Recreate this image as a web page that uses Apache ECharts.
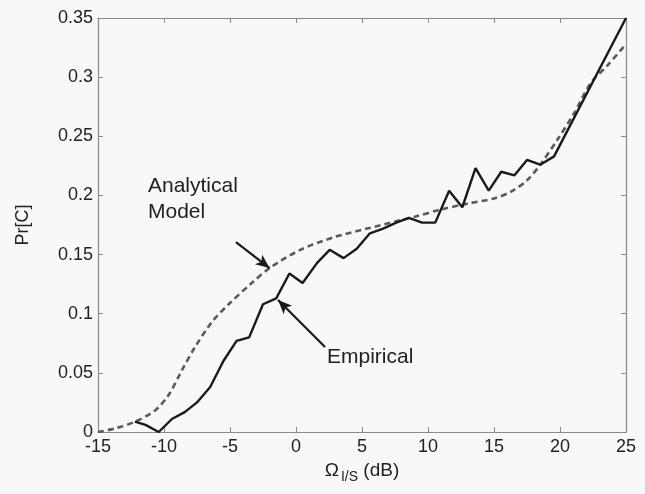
<!DOCTYPE html>
<html>
<head>
<meta charset="utf-8">
<script src="https://cdn.jsdelivr.net/npm/echarts@6/dist/echarts.min.js"></script>
<style>
html,body{margin:0;padding:0;background:#f8f8f8;}
#c{width:645px;height:494px;}
</style>
</head>
<body>
<div id="c"></div>
<script>
// Empirical (solid) curve: x in dB, y = Pr[C]
var empX = [-12.2,-11.4,-10.4,-9.4,-8.4,-7.5,-6.5,-5.5,-4.5,-3.55,-2.5,-1.5,-0.5,0.5,1.6,2.55,3.6,4.6,5.6,6.6,7.6,8.55,9.55,10.55,11.6,12.6,13.6,14.6,15.55,16.55,17.5,18.5,19.55,25];
var empY = [0.0087,0.006,0.0,0.011,0.017,0.025,0.038,0.060,0.077,0.080,0.108,0.113,0.134,0.126,0.143,0.154,0.147,0.155,0.168,0.172,0.177,0.181,0.177,0.177,0.204,0.190,0.223,0.204,0.220,0.217,0.230,0.226,0.233,0.350];
// Analytical model (dashed) curve
var anaX = [-15,-13.7,-12.2,-10.7,-9.67,-8.65,-7.64,-6.37,-5.1,-3.35,-1.95,0.33,2.85,5.39,7.9,9,10.95,12.97,15,16.26,17.53,18.5,19.8,21.07,22.33,23.6,24.93];
var anaY = [0,0.003,0.0087,0.018,0.031,0.052,0.072,0.093,0.108,0.126,0.139,0.154,0.1646,0.172,0.179,0.182,0.188,0.193,0.1975,0.203,0.213,0.226,0.247,0.2695,0.295,0.310,0.327];
// Axis ticks
var xTicks = [-15,-10,-5,0,5,10,15,20,25];
var yTicks = [0,0.05,0.1,0.15,0.2,0.25,0.3,0.35];
// Annotations
var annotations = [
  {lines:['Analytical','Model'], from:[-4.55,0.1606], to:[-2.0,0.1386]},
  {lines:['Empirical'], from:[2.2,0.0719], to:[-1.36,0.1116]}
];

function zip(a,b){return a.map(function(v,i){return [v,b[i]];});}

var chart = echarts.init(document.getElementById('c'));
var FONT = 'Liberation Sans, Arial, sans-serif';
function axisCommon(){
  return {
    axisLine:{show:true,onZero:false,lineStyle:{color:'#8a8a8a',width:1.2}},
    axisTick:{show:true,inside:true,length:5,lineStyle:{color:'#8a8a8a'}},
    splitLine:{show:false}
  };
}
var option = {
  backgroundColor:'#f8f8f8',
  animation:false,
  grid:{left:98,top:18,right:19,bottom:62},
  xAxis:[
    Object.assign({type:'value',min:xTicks[0],max:xTicks[xTicks.length-1],interval:5,position:'bottom',
      axisLabel:{color:'#222',fontSize:18,fontFamily:FONT,margin:6},
      name:'{o|Ω}{s|I/S}{n| (dB)}',nameLocation:'middle',nameGap:26,
      nameTextStyle:{rich:{
        o:{fontSize:19,fontFamily:FONT,color:'#222'},
        s:{fontSize:14,fontFamily:FONT,color:'#222',padding:[12,0,0,2]},
        n:{fontSize:19,fontFamily:FONT,color:'#222'}
      }}
    },axisCommon()),
    Object.assign({type:'value',min:xTicks[0],max:xTicks[xTicks.length-1],interval:5,position:'top',
      axisLabel:{show:false}},axisCommon())
  ],
  yAxis:[
    Object.assign({type:'value',min:yTicks[0],max:yTicks[yTicks.length-1],interval:0.05,position:'left',
      axisLabel:{color:'#222',fontSize:18,fontFamily:FONT,margin:5,
        formatter:function(v){return String(Math.round(v*100)/100);}},
      name:'Pr[C]',nameLocation:'middle',nameGap:66,nameRotate:90,
      nameTextStyle:{fontSize:18,fontFamily:FONT,color:'#222'}
    },axisCommon()),
    Object.assign({type:'value',min:yTicks[0],max:yTicks[yTicks.length-1],interval:0.05,position:'right',
      axisLabel:{show:false}},axisCommon())
  ],
  series:[
    {type:'line',name:'Analytical Model',data:zip(anaX,anaY),smooth:0.3,showSymbol:false,
      lineStyle:{color:'#5a5a5a',width:2.6,type:[6,4]},z:2},
    {type:'line',name:'Empirical',data:zip(empX,empY),showSymbol:false,
      lineStyle:{color:'#1a1a1a',width:2.4},z:3,
      markLine:{silent:true,animation:false,symbol:['none','arrow'],symbolSize:[9,14],
        lineStyle:{color:'#1a1a1a',width:2.2,type:'solid'},label:{show:false},
        data:annotations.map(function(a){return [{coord:a.from,symbol:'none'},{coord:a.to,symbol:'arrow'}];})
      }
    }
  ],
  graphic:[
    {type:'text',left:148,top:173,style:{text:annotations[0].lines.join('\n'),fontSize:21,fontFamily:FONT,fill:'#222',lineHeight:26}},
    {type:'text',left:327,top:347,style:{text:annotations[1].lines.join('\n'),fontSize:21,fontFamily:FONT,fill:'#222'}}
  ]
};
chart.setOption(option);
</script>
</body>
</html>
